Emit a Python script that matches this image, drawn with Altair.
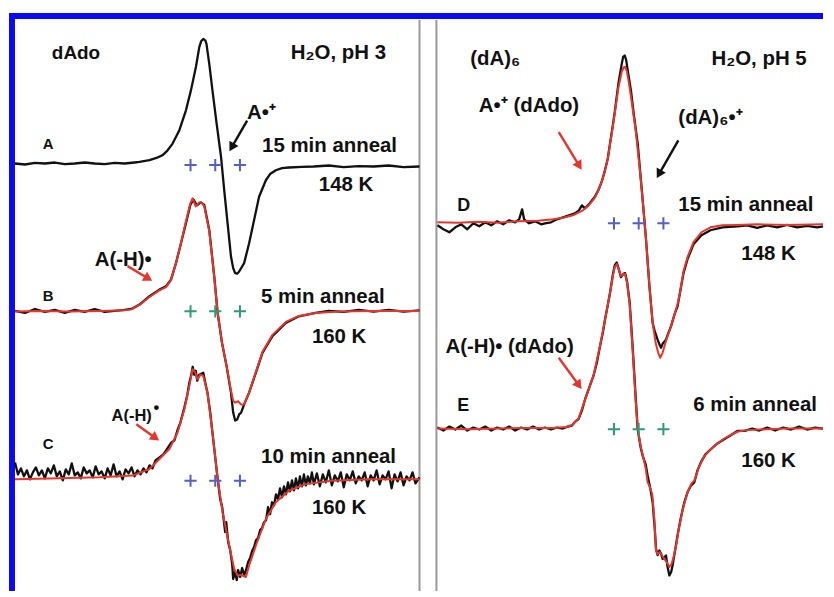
import altair as alt
import pandas as pd

# ---------------- spectra: field (G, relative to centre marker), intensity (a.u., relative to baseline)
A_field = [-100.5, -95.5, -90.5, -85.5, -80.5, -75.5, -70.5, -65.5, -60.5, -55.5, -50.5, -45.5, -40.5, -38, -33, -29.5,
           -26.4, -24, -21.4, -18, -14.7, -12.2, -9.7, -8, -7, -6, -5, -4.4, -3, -1.4, 0.7, 2.9, 4.5, 6.2, 7.9, 9, 10,
           11, 12, 14.5, 17, 19.5, 22, 25.4, 27.5, 30.4, 33.5, 37, 43.5, 49.5, 57, 64.5, 72, 79.5, 87, 94.5, 102.5]
A_int = [0, -0.5, 0.3, 0, 0.5, -0.3, 0, 0.5, 0, -0.3, 0.3, 0, 0.5, 0.8, 1.7, 2.8,
         4.2, 6.5, 10, 16.7, 26.7, 36.7, 48.4, 58.4, 61.5, 62.5, 61.8, 60, 50, 36.7, 20, 3.4, -13.4, -30, -46.7, -52.5, -55,
         -55.3, -54.2, -50, -40, -28.4, -16.7, -8.4, -5.3, -3.4, -2.3, -2, -1.7, -1.5, -1, -1.8, -1.3, -1.5, -1, -1.8, -1.5]

B_black_field = [-100.5, -95.5, -90.5, -85.5, -80.5, -75.5, -70.5, -65.5, -60.5, -55.5, -50.5, -45.5, -42, -38, -33, -28,
                 -24.7, -22.2, -19.7, -17.2, -14.7, -12.5, -11, -9.2, -7.2, -5.5, -3, -0.5, 1.2, 3.4, 5.7, 7.9, 9, 10,
                 11, 12, 13, 14.5, 17, 20.4, 23.7, 28.7, 35.4, 42, 50.4, 57, 64.5, 72, 79.5, 87, 94.5, 102.5]
B_black_int = [0, -1, 1, -0.5, 0.5, -1, 0.5, -0.5, 1, -0.5, 0, 0.5, 1, 3.2, 7.4, 10.7,
               12.4, 15.7, 24, 34, 44, 53.2, 56, 53, 54.5, 53.2, 40.7, 17.4, -1, -16, -27.7, -41, -51, -55,
               -54.5, -51.9, -51, -46.9, -41, -31, -21, -12.7, -6, -2.7, -1, 0, -0.5, 0.5, -0.3, 0.5, -0.3, 0.3]
B_red_field = [-100.5, -88, -73, -58, -45.5, -42, -38, -33, -28, -24.7, -22.2, -19.7, -17.2, -14.7, -12.5, -11.4, -9.8,
               -8, -6.5, -5.5, -3, -0.5, 1.2, 3.4, 5.7, 7.9, 9, 10, 11.5, 13, 14.5, 17, 20.4, 23.7, 28.7, 35.4, 42,
               50.4, 62, 77, 92, 102.5]
B_red_int = [-0.3, 0, -0.3, 0, 0.3, 0.8, 3, 7, 10.3, 12, 15.5, 24, 34, 45, 54, 56.5, 52.5,
             54.5, 54, 52.5, 40, 17, -1, -16, -27.7, -40, -45, -46, -45.3, -47, -46.9, -41, -30.5, -20.5, -12, -5.5, -2.5,
             -1, -0.3, 0, 0, 0]

C_red_field = [-100.5, -78, -58, -41.5, -33, -28, -23, -18.9, -15.5, -13, -11.4, -10, -8.9, -7.5, -6, -3.9, -1.4,
               1.2, 3.7, 7, 9.5, 11.2, 13, 15.4, 17, 20.4, 25.4, 30.4, 37, 45.4, 58.5, 77, 102.5]
C_red_int = [-0.4, 0, 0.5, 1.4, 4.7, 9.7, 14.7, 23, 34.7, 46.4, 54.7, 53, 49.7, 52, 51.4, 43, 23,
             -0.4, -17, -33.7, -45.4, -48.7, -48.5, -49.5, -43.7, -33.7, -20.4, -12, -6.2, -2.9, -1.2, -0.5, -0.4]
C_black_field = [-100.5, -99, -97.5, -96, -94.5, -93, -91.5, -90, -88.5, -87, -85.5, -84, -82.5, -81, -79.5, -78,
                 -76.5, -75, -73.5, -72, -70.5, -69, -67.5, -66, -64.5, -63, -61.5, -60, -58.5, -57, -55.5, -54,
                 -52.5, -51, -49.5, -48, -46.5, -45, -43.5, -42, -40.5, -39, -37.5, -36, -34.5, -33, -31.5, -30,
                 -28, -26, -24, -22, -20.5, -19, -17.5, -15.5, -14, -13, -12, -11.3, -10.5, -9.8, -9, -8, -7, -6,
                 -5, -3.9, -2.5, -1.4, 0, 1.2, 2.5, 3.5, 5, 5.5, 6.5, 7.5, 8.5, 9, 10, 10.8, 11.5, 12.5, 13.5, 14.5,
                 15.5, 16.5, 17.5, 18.5, 19.5, 20.5, 21.5, 22.5, 23.5, 24.5, 25.5, 26.5, 27.5, 28.5, 29.5, 30.5,
                 31.5, 32.5, 33.5, 34.5, 35.5, 36.5, 37.5, 38.5, 39.5, 40.5, 41.5, 42.5, 43.5, 44.5, 45.5, 46.5,
                 47.5, 48.5, 49.5, 51, 52.5, 54, 55.5, 57, 58.5, 60, 61.5, 63, 64.5, 66, 67.5, 69, 70.5, 72, 73.5,
                 75, 76.5, 78, 79.5, 81, 82.5, 84, 85.5, 87, 88.5, 90, 91.5, 93, 94.5, 96, 97.5, 99, 100.5, 102.5]
C_black_int = [8, 2, 5, 1, 4, -0.5, 3, 5.5, 1.5, 4, 0, 5, 2.5, 6.5, 1, 3.5,
               -1, 4.5, 2, 7.5, 1.5, 3, 0, 5.5, 2.5, 4, 0.5, 6, 2, 3.5, 0, 5,
               1.5, 7, 1, 3.5, -0.5, 4.5, 2.5, 5.5, 1, 4, 2, 5, 3, 6.5, 5, 9,
               10.5, 12, 15, 18, 19, 24, 28, 35.5, 42, 48, 52, 56, 52, 54, 49, 52, 52.5, 53,
               48, 43, 33, 23, 10.5, 0, -10.5, -14.5, -27, -22, -32, -36, -43, -50.5, -47, -51, -46, -49.5, -45, -48.5,
               -46, -42, -40, -36.5, -34.5, -31, -30, -26, -25, -22, -21, -14.5, -18, -12, -13.5, -8,
               -10.5, -5, -9.5, -4, -8, -2, -6.5, -1, -6, 0, -5, 1, -4, 2, -3.5, 1,
               -2.5, 3, -3, 2.5, -4, 2, -2, 4, -3.5, 1.5, -1.5, 3, -4.5, 2, -1, 3.5, -2.5, 1, -1,
               3, -4, 1.5, -1, 4, -3, 1.5, -0.5, 3.5, -5, 2, -1.5, 3, -3.5, 1, -1, 3, -2.5, 0.5]

D_black_field = [-101, -98, -95, -92, -89, -86, -83, -80, -77, -74, -71, -68, -65, -62, -60, -58.5, -57.5, -55, -52,
                 -49, -47, -44, -41, -38, -35, -32, -30, -28.5, -27, -25, -23.5, -21.9, -20.2, -18.5, -16.9, -15.5,
                 -14.4, -13, -11.9, -10.2, -8.5, -7.8, -7, -6.3, -5.5, -3.9, -2.5, -0.5, 2, 3.7, 5.4, 7, 8, 9.5,
                 10.5, 11.2, 12, 13.7, 14.9, 16.2, 18.2, 19.5, 20.7, 22.5, 24.5, 27.5, 31.5, 36, 42, 49.5, 54.5,
                 59.5, 64.5, 69.5, 74.5, 79.5, 84.5, 89.5, 92.5]
D_black_int = [-1, -3, -4.5, -2, -0.5, -3, 0, -1.5, 0.5, -1, 1, -0.5, 1.5, 0.5, 2, 7, 2, 0, 1,
               -0.5, 0, 0.5, 2, 3, 4, 5, 6.5, 9, 7.5, 9.5, 11.5, 13.5, 16.7, 21, 26.7, 32.5,
               40, 49, 56.7, 70, 80, 83.5, 84.2, 82, 76.7, 66.7, 55, 40, 11.7, -8.4, -31.7, -50, -54, -58.4,
               -61, -62.5, -60.5, -58.4, -55, -51.7, -45, -41.7, -35, -25, -18, -10.5, -6, -3.5, -2, -1.5, -1,
               -2.3, -1, -2, -0.8, -2, -1.3, -2, -1.5]
D_red_field = [-101, -90.5, -80.5, -70.5, -60.5, -50.5, -43, -38, -33, -28, -25, -21.9, -20.2, -18.5, -16.9, -15.5,
               -14.4, -13, -11.9, -10.2, -8.5, -7.5, -6.8, -6, -5, -3.5, -1.5, 0.5, 2, 3.7, 5.4, 7, 8.5, 9.8,
               10.8, 12, 13.7, 14.9, 16.2, 18.2, 19.5, 20.7, 22.5, 24.5, 27.5, 31.5, 36, 42, 49.5, 59.5, 74.5,
               92.5]
D_red_int = [0.5, 0.3, 0.8, 0.3, 1, 1.3, 2, 2.8, 4, 6.5, 9, 13, 16.5, 21, 26.5, 32.5,
             39.5, 48.5, 56, 68, 76, 78.3, 78.5, 76.5, 71, 61, 46.5, 27.5, 11.7, -8.4, -31.7, -50, -60, -65,
             -67.5, -65, -59, -55.5, -51.7, -45, -40.5, -35, -24, -17, -9.5, -4.5, -2, -1, -0.8, -0.5, -0.8,
             -0.5]

E_black_field = [-101, -98, -95, -92, -89, -86, -83, -80, -77, -74, -71, -68, -65, -62, -59, -56, -53, -50, -47,
                 -44, -41, -38, -35.5, -33.5, -31.8, -30.2, -28.5, -26.9, -25, -22.7, -21, -19.4, -18, -16.9, -15.5,
                 -14.4, -13, -12, -11, -10, -8.9, -7.8, -6.8, -5.8, -4.5, -3, -1.5, -0.5, 1, 2, 3.5, 4.5, 6, 7, 8,
                 8.7, 9.5, 10.4, 11.3, 12, 13, 13.7, 14.5, 15.4, 16.3, 17, 18.3, 19.5, 21, 22.9, 24.5, 26.2, 27.9,
                 29.5, 31.2, 33.5, 36.2, 39.5, 42.9, 46, 49.5, 53.2, 57, 60.5, 64.5, 68.5, 72.5, 76.5, 80.5, 84.5,
                 88.5, 92.5]
E_black_int = [0.5, -1, 1, -0.5, 1.5, -1, 0.5, -0.5, 1, -1, 0.5, -0.5, 1, -1, 0.5, -0.5, 1, -0.5, 0.5,
               -0.5, 0.5, 0, 1, 1.5, 3.5, 4.7, 9, 14.7, 20, 26.4, 33, 41.4, 48, 54.7, 62,
               68, 77, 82, 83.3, 80, 76, 77.5, 78, 73.5, 63, 40.5, 15.5, -0.4, -9.5, -13.7, -18, -23.7, -31, -37, -49.5,
               -60.4, -63.5, -61.2, -63, -65.4, -64.5, -63.7, -69.5, -73.7, -72, -68.7, -61, -53.7, -45.5, -37, -32, -28.7, -27,
               -21, -17, -13, -10.4, -7.5, -5.4, -3.5, -1.2, -1.2, 0, -1, 0.5, -1, 0.5, -0.5, 1, -0.5,
               0.5, 0]
E_red_field = [-101, -85.5, -70.5, -55.5, -43, -36.5, -33.5, -30.2, -26.9, -22.7, -19.4, -16.9, -14.4, -13, -12, -11,
               -10, -8.9, -7.8, -6.8, -5.8, -4.5, -3, -1.5, -0.5, 1, 2, 3.5, 4.5, 5.5, 6.8, 7.8, 8.7, 9.5, 10.5,
               11.5, 12.9, 14, 15.4, 16.5, 17.5, 18.8, 20, 22, 24.5, 26.5, 28, 30, 32.5, 36, 39.5, 43, 46.5, 50,
               54.5, 64.5, 74.5, 92.5]
E_red_int = [0, -0.3, 0, 0.3, 0.3, 0.8, 1.8, 5, 14.5, 26.5, 41.5, 54.5, 68, 76.5, 81, 82.5,
             80, 76.5, 77.5, 77.5, 73, 62, 39, 14, 0, -9, -13, -20, -27, -29, -33, -44.5, -61.2, -63, -62,
             -63.5, -65.4, -67, -69.5, -68, -64.5, -58.5, -51, -41, -32, -27.5, -26, -20, -14.5, -10.5, -7.5, -5, -3, -1.5,
             -0.8, -0.3, 0, 0]

# ---------------- field markers (three crosses under each spectrum)
marker_field = [-12.4, 0, 12.4]
marker_level = {"A": -0.8, "B": -0.2, "C": -1.2, "D": 0.0, "E": -0.3}
marker_color = {"A": "#5560c4", "B": "#2f9a7a", "C": "#5560c4", "D": "#5560c4", "E": "#2f9a7a"}

# ---------------- layout constants (vertical offsets of the stacked spectra)
OFFSET = {"A": 214.5, "B": 140.5, "C": 56.5, "D": 184.5, "E": 81.5}
YDOM = [0, 290.5]
LDOM = [-104, 104]
RDOM = [-108.5, 92.5]
BLACK = "#111111"
RED = "#e8352b"
BLUE = "#0a0af5"
GREY = "#9a9a9a"
FONT = "Liberation Sans"

traces = [
    ("A", "k", A_field, A_int),
    ("B", "k", B_black_field, B_black_int), ("B", "r", B_red_field, B_red_int),
    ("C", "k", C_black_field, C_black_int), ("C", "r", C_red_field, C_red_int),
    ("D", "k", D_black_field, D_black_int), ("D", "r", D_red_field, D_red_int),
    ("E", "k", E_black_field, E_black_int), ("E", "r", E_red_field, E_red_int),
]
rows = []
for spec, col, fx, iy in traces:
    for i, (f, v) in enumerate(zip(fx, iy)):
        rows.append({"spectrum": spec, "trace": col, "idx": i, "field": f, "y": v + OFFSET[spec]})
spectra = pd.DataFrame(rows)

mk = pd.DataFrame([{"spectrum": s, "field": f, "y": marker_level[s] + OFFSET[s], "color": marker_color[s]}
                   for s in "ABCDE" for f in marker_field])

# ---------------- annotations
text_L = [("dAdo", -82, 267, 19), ("H₂O, pH 3", 37.9, 267, 20.5), ("A", -86.5, 222, 15),
          ("A•⁺", 16, 237, 20.5), ("15 min anneal", 23.5, 220.5, 20.5), ("148 K", 52, 200.5, 20.5),
          ("A(-H)•", -60.5, 163, 20.5), ("B", -86.5, 145.5, 15), ("5 min anneal", 23, 144.5, 20.5),
          ("160 K", 48.5, 124.5, 20.5), ("A(-H)", -52, 85.5, 16.5), ("•", -31, 89.2, 16.5),
          ("C", -86.5, 71, 15), ("10 min anneal", 23, 64, 20.5), ("160 K", 48.5, 38.5, 20.5)]
text_R = [("(dA)₆", -84.5, 264, 20.5), ("H₂O, pH 5", 36.5, 264, 20.5), ("A•⁺ (dAdo)", -80.2, 240.5, 20.5),
          ("(dA)₆•⁺", 19.9, 234.5, 20.5), ("D", -91, 190.5, 18), ("15 min anneal", 19.9, 190.5, 20.5),
          ("148 K", 51.5, 166, 20.5), ("A(-H)• (dAdo)", -97, 119.5, 20.5), ("E", -91, 90.5, 18),
          ("6 min anneal", 27.4, 90.5, 20.5), ("160 K", 51.5, 62, 20.5)]

# arrows: start (field, y) -> head centre (field2, y2), head angle, colour
arrows_L = [(16, 236, 8.25, 222.6, 210, BLACK), (-44, 163, -33.6, 156.8, 121, RED),
            (-39.6, 83.6, -30, 76.8, 125.5, RED)]
arrows_R = [(-40.1, 230.3, -29.8, 213.3, 148.7, RED), (19.9, 226.1, 10.2, 209.2, 209.5, BLACK),
            (-40.1, 117, -30, 103.2, 143.7, RED)]


def X(dom, field="field"):
    return alt.X(f"{field}:Q", scale=alt.Scale(domain=dom, nice=False, zero=False), axis=None)


def Yf(field="y"):
    return alt.Y(f"{field}:Q", scale=alt.Scale(domain=YDOM, nice=False, zero=False), axis=None)


def panel(specs, dom, texts, arrows, frame, width):
    layers = []
    for r in frame:
        layers.append(alt.Chart(pd.DataFrame([r])).mark_rule(color=r["c"], strokeWidth=r["w"]).encode(
            x=X(dom, "x1"), x2="x2:Q", y=Yf("y1"), y2="y2:Q"))
    sub = spectra[spectra.spectrum.isin(specs)]
    layers.append(alt.Chart(sub[sub.trace == "k"]).mark_line(color=BLACK, strokeWidth=2.3, strokeJoin="round").encode(
        x=X(dom), y=Yf(), detail="spectrum:N", order="idx:Q"))
    layers.append(alt.Chart(sub[sub.trace == "r"]).mark_line(color=RED, strokeWidth=2, strokeJoin="round").encode(
        x=X(dom), y=Yf(), detail="spectrum:N", order="idx:Q"))
    layers.append(alt.Chart(mk[mk.spectrum.isin(specs)]).mark_point(
        shape="M-1,0L1,0M0,-1L0,1", size=150, filled=False, strokeWidth=2, opacity=1).encode(
        x=X(dom), y=Yf(), color=alt.Color("color:N", scale=None)))
    tdf = pd.DataFrame(texts, columns=["label", "field", "y", "size"])
    layers.append(alt.Chart(tdf).mark_text(align="left", baseline="alphabetic", font=FONT, fontWeight="bold",
                                           color=BLACK).encode(
        x=X(dom), y=Yf(), text="label:N", size=alt.Size("size:Q", scale=None)))
    adf = pd.DataFrame(arrows, columns=["field", "y", "field2", "y2", "angle", "color"])
    layers.append(alt.Chart(adf).mark_rule(strokeWidth=2.4).encode(
        x=X(dom), y=Yf(), x2="field2:Q", y2="y2:Q", color=alt.Color("color:N", scale=None)))
    layers.append(alt.Chart(adf).mark_point(shape="triangle-up", filled=True, size=110, opacity=1).encode(
        x=X(dom, "field2"), y=Yf("y2"),
        angle=alt.Angle("angle:Q", scale=None), color=alt.Color("color:N", scale=None)))
    return alt.layer(*layers).properties(width=width, height=581)


frame_L = [
    {"x1": -102, "x2": 105, "y1": 288.5, "y2": 288.5, "c": BLUE, "w": 6},
    {"x1": -102, "x2": -102, "y1": 0, "y2": 290, "c": BLUE, "w": 6},
    {"x1": 102.5, "x2": 102.5, "y1": 0, "y2": 286.5, "c": GREY, "w": 2},
]
frame_R = [
    {"x1": -109.5, "x2": 92.5, "y1": 288.5, "y2": 288.5, "c": BLUE, "w": 6},
    {"x1": -101.5, "x2": -101.5, "y1": 0, "y2": 286.5, "c": GREY, "w": 2},
]

left = panel(["A", "B", "C"], LDOM, text_L, arrows_L, frame_L, 416)
right = panel(["D", "E"], RDOM, text_R, arrows_R, frame_R, 402)

chart = alt.hconcat(left, right, spacing=0, bounds="flush").properties(
    padding=0, background="white"
).configure_view(stroke=None)
chart.save("out.html", embed_options={"renderer": "svg", "actions": False})
